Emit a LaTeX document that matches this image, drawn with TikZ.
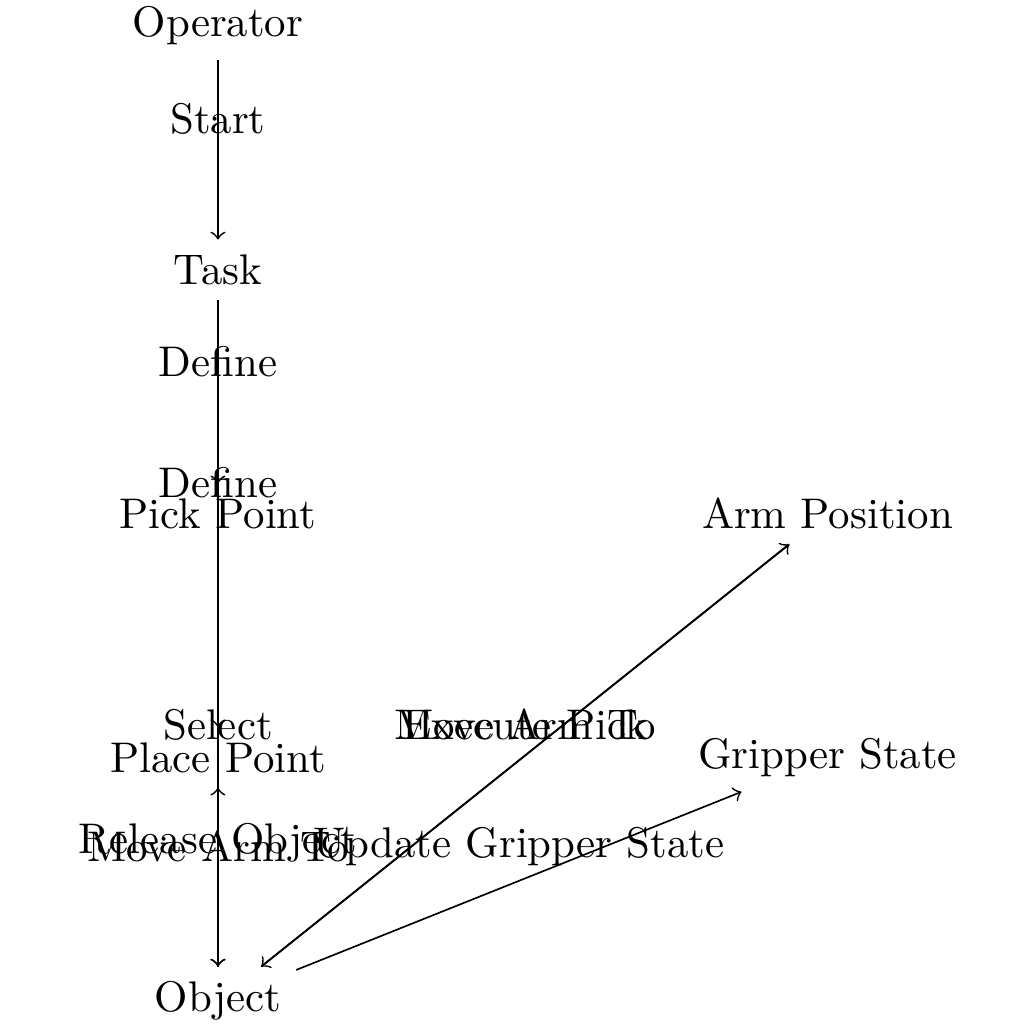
\documentclass[tikz,border=0pt]{standalone}
\begin{document}
\begin{tikzpicture}[edge/.style={->}, lbl/.style={midway, above}]
\useasboundingbox (-1.788,0.213) rectangle (6.612,-8.187);
\node (op) at (0,0) {Operator};
\node (task) at (0,-2) {Task};
\node (pick) at (0,-4) {Pick Point};
\node (place) at (0,-6) {Place Point};
\node (obj) at (0,-8) {Object};
\node (arm) at (5,-4) {Arm Position};
\node (grip) at (5,-6) {Gripper State};
\draw[edge] (op) -- node[lbl] {Start} (task);
\draw[edge] (task) -- node[lbl] {Define} (pick);
\draw[edge] (task) -- node[lbl] {Define} (place);
\draw[edge] (pick) -- node[lbl] {Select} (obj);
\draw[edge] (place) -- node[lbl] {Move Arm To} (obj);
\draw[edge] (obj) -- node[lbl] {Release Object} (place);
\draw[edge] (obj) -- node[lbl] {Move Arm To} (arm);
\draw[edge] (arm) -- node[lbl] {Execute Pick} (obj);
\draw[edge] (obj) -- node[lbl] {Update Gripper State} (grip);
\end{tikzpicture}
\end{document}
